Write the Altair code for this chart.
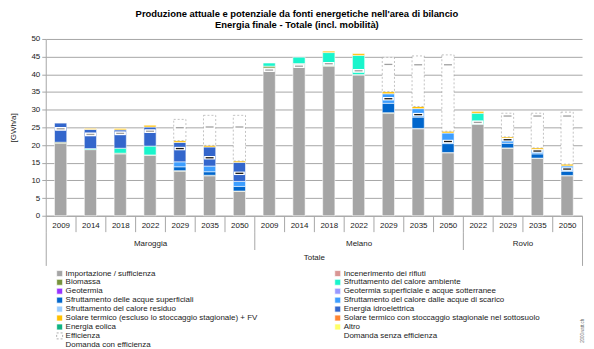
import altair as alt
import pandas as pd

# ---------------- data ----------------
comuni = ["Maroggia"] * 7 + ["Melano"] * 7 + ["Rovio"] * 4
anni = [2009, 2014, 2018, 2022, 2029, 2035, 2050,
        2009, 2014, 2018, 2022, 2029, 2035, 2050,
        2022, 2029, 2035, 2050]
keys = [f"{c} {a}" for c, a in zip(comuni, anni)]

S_IMP = "Importazione / sufficienza"
S_INC = "Incenerimento dei rifiuti"
S_BIO = "Biomassa"
S_AMB = "Sfruttamento del calore ambiente"
S_GEO = "Geotermia"
S_GES = "Geotermia superficiale e acque sotterranee"
S_ASU = "Sfruttamento delle acque superficiali"
S_ASC = "Sfruttamento del calore dalle acque di scarico"
S_RES = "Sfruttamento del calore residuo"
S_IDR = "Energia idroelettrica"
S_SOL = "Solare termico (escluso lo stoccaggio stagionale) + FV"
S_SST = "Solare termico con stoccaggio stagionale nel sottosuolo"
S_EOL = "Energia eolica"
S_ALT = "Altro"
S_EFF = "Efficienza"
S_DSE = "Domanda senza efficienza"
S_DCE = "Domanda con efficienza"

importazione = [20.5, 18.7, 17.5, 17.1, 12.6, 11.3, 6.9,
                41.8, 42.9, 42.3, 39.8, 29.0, 24.6, 17.8,
                25.9, 19.1, 16.2, 11.3]
biomassa = [0.3, 0.0, 0.2, 0.1, 0.15, 0.15, 0.1,
            0.5, 0.15, 0.25, 0.15, 0.15, 0.1, 0.1,
            0.0, 0.1, 0.1, 0.1]
calore_ambiente = [0.0, 0.3, 1.4, 2.5, 0.0, 0.0, 0.0,
                   0.9, 1.8, 3.6, 5.4, 0.0, 0.0, 0.0,
                   3.1, 0.0, 0.0, 0.0]
acque_superficiali = [0.0, 0.0, 0.0, 0.0, 1.1, 1.0, 1.3,
                      0.0, 0.0, 0.0, 0.0, 2.65, 3.2, 2.5,
                      0.0, 1.3, 1.2, 1.2]
acque_scarico = [0.0, 0.0, 0.0, 0.0, 1.4, 1.6, 1.4,
                 0.0, 0.0, 0.0, 0.0, 2.7, 2.4, 3.0,
                 0.0, 1.4, 1.2, 1.5]
idroelettrica = [5.4, 5.4, 5.2, 5.4, 5.5, 5.4, 5.4,
                 0.0, 0.0, 0.0, 0.0, 0.0, 0.0, 0.0,
                 0.0, 0.0, 0.0, 0.0]
solare = [0.0, 0.3, 0.4, 0.5, 0.5, 0.45, 0.4,
          0.0, 0.0, 0.4, 0.5, 0.6, 0.6, 0.5,
          0.5, 0.4, 0.5, 0.5]
efficienza = [0.0, 0.0, 0.0, 0.0, 6.0, 8.5, 12.9,
              0.0, 0.0, 0.0, 0.0, 9.7, 14.3, 21.6,
              0.0, 6.7, 9.8, 14.7]
domanda_con = [24.6, 23.0, 23.3, 23.9, 19.0, 16.4, 12.0,
               41.2, 42.3, 43.0, 41.0, 33.1, 28.6, 21.0,
               26.4, 21.5, 18.3, 13.2]
domanda_senza = [24.6, 23.0, 23.3, 23.9, 24.9, 25.1, 25.1,
                 41.2, 42.3, 43.0, 41.0, 42.8, 42.7, 42.7,
                 26.4, 28.2, 28.2, 28.2]

# legend order (column-major: left column, then right column)
legend_order = [S_IMP, S_BIO, S_GEO, S_ASU, S_RES, S_SOL, S_EOL, S_EFF, S_DCE,
                S_INC, S_AMB, S_GES, S_ASC, S_IDR, S_SST, S_ALT, S_DSE]
fill_colors = ["#A5A5A5", "#77933C", "#9933FF", "#0066CC", "#99CCFF", "#FFC000",
               "#10B383", "#FFFFFF", "#FFFFFF",
               "#D99694", "#19F5CC", "#9999FF", "#3D9EFF", "#3366CC", "#FF8533",
               "#FFFF66", "#FFFFFF"]
stroke_colors = ["#FFFFFF"] * 7 + ["#9A9A9A"] + ["#FFFFFF"] * 9
dashes = [[1, 0]] * 7 + [[2, 2]] + [[1, 0]] * 9

stack_order = [S_IMP, S_INC, S_BIO, S_AMB, S_GEO, S_GES, S_ASU, S_ASC, S_RES,
               S_IDR, S_EOL, S_ALT, S_SOL, S_SST, S_EFF]

series = {
    S_IMP: importazione, S_BIO: biomassa, S_AMB: calore_ambiente,
    S_ASU: acque_superficiali, S_ASC: acque_scarico, S_IDR: idroelettrica,
    S_SOL: solare, S_EFF: efficienza,
}

rows = []
for name, vals in series.items():
    for k, v in zip(keys, vals):
        if v > 0:
            rows.append({"key": k, "serie": name, "valore": v,
                         "ord": stack_order.index(name)})
df = pd.DataFrame(rows)

dm = pd.DataFrame({"key": keys, "con": domanda_con, "senza": domanda_senza})

FONT = "Liberation Sans"
GRID = "#A6A6A6"
TXT = "#1a1a1a"

leg = alt.Legend(title=None, orient="none", legendX=10, legendY=232, columns=2,
                 columnPadding=75, rowPadding=-1, symbolType="square", symbolSize=36,
                 labelFontSize=8, labelFont=FONT, labelColor=TXT,
                 labelLimit=320, labelOffset=2, symbolStrokeWidth=0.8)

yscale = alt.Scale(domain=[0, 50], nice=False)
xscale = alt.Scale(domain=keys, paddingInner=0, paddingOuter=0)

xaxis = alt.Axis(title=None, labelExpr="split(datum.value, ' ')[1]",
                 labelAngle=0, tickBand="extent", tickSize=16,
                 labelPadding=-10, domainColor=GRID, tickColor=GRID,
                 labelFontSize=8, labelFont=FONT, labelColor=TXT, grid=False)
yaxis = alt.Axis(values=list(range(0, 51, 5)), title="[GWh/a]",
                 titleFontSize=8, titleFontWeight="normal", titleFont=FONT,
                 titleColor=TXT, labelFontSize=8, labelFont=FONT,
                 labelColor=TXT, gridColor=GRID, domainColor=GRID,
                 tickColor=GRID, tickSize=4, labelPadding=2, titlePadding=14)

bars = alt.Chart(df).mark_bar(width=alt.RelativeBandSize(0.41), strokeWidth=0.6).encode(
    x=alt.X("key:N", sort=keys, scale=xscale, axis=xaxis),
    y=alt.Y("valore:Q", stack="zero", scale=yscale, axis=yaxis),
    fill=alt.Fill("serie:N", scale=alt.Scale(domain=legend_order, range=fill_colors), legend=leg),
    stroke=alt.Stroke("serie:N", scale=alt.Scale(domain=legend_order, range=stroke_colors), legend=leg),
    strokeDash=alt.StrokeDash("serie:N", scale=alt.Scale(domain=legend_order, range=dashes), legend=leg),
    order=alt.Order("ord:Q", sort="ascending"),
)

def marker(field, color, size, thick):
    return alt.Chart(dm).mark_tick(color=color, size=size, thickness=thick, opacity=1).encode(
        x=alt.X("key:N", sort=keys, scale=xscale, axis=xaxis),
        y=alt.Y(f"{field}:Q", scale=yscale, axis=yaxis),
    )

inner = alt.layer(
    bars,
    marker("con", "#FFFFFF", 11, 3.5),
    marker("con", "#1a1a1a", 8, 1.3),
    marker("senza", "#FFFFFF", 11, 3.5),
    marker("senza", "#A0A0A0", 8, 1.3),
)

pos_df = pd.DataFrame({"p": [0, 18]})
qscale = alt.Scale(domain=[0, 18], nice=False, zero=False)

ax_gruppi = alt.Chart(pos_df).mark_point(opacity=0).encode(
    x=alt.X("p:Q", scale=qscale,
            axis=alt.Axis(orient="bottom", offset=16, title=None, grid=False, domain=False,
                          values=[0, 3.5, 7, 10.5, 14, 16, 18],
                          labelExpr="datum.value == 3.5 ? 'Maroggia' : datum.value == 10.5 ? 'Melano' : datum.value == 16 ? 'Rovio' : ''",
                          tickSize=18, labelPadding=-10, labelFontSize=8, labelFont=FONT,
                          labelColor=TXT, labelFlush=False, labelOverlap=False,
                          tickColor={"condition": {"test": "datum.value == 3.5 || datum.value == 10.5 || datum.value == 16",
                                                   "value": "transparent"},
                                     "value": GRID}))
)

ax_totale = alt.Chart(pos_df).mark_point(opacity=0).encode(
    x=alt.X("p:Q", scale=qscale,
            axis=alt.Axis(orient="bottom", offset=34, title=None, grid=False, domain=False,
                          values=[0, 9, 18],
                          labelExpr="datum.value == 9 ? 'Totale' : ''",
                          tickSize=16, labelPadding=-12, labelFontSize=8, labelFont=FONT,
                          labelColor=TXT, labelFlush=False, labelOverlap=False,
                          tickColor={"condition": {"test": "datum.value == 9",
                                                   "value": "transparent"},
                                     "value": GRID}))
)

wm = alt.Chart(pd.DataFrame({"t": ["2000watt.ch"]})).mark_text(
    angle=270, fontSize=4.5, font=FONT, color="#666666", align="left", baseline="middle"
).encode(text="t:N", x=alt.value(541), y=alt.value(306))

chart = alt.layer(inner, ax_gruppi, ax_totale, wm).resolve_scale(x="independent").properties(
    width=540, height=178,
    autosize=alt.AutoSizeParams(type="none"),
    padding={"left": 38, "top": 30, "right": 4, "bottom": 133},
    title=alt.TitleParams(
        text=["Produzione attuale e potenziale da fonti energetiche nell'area di bilancio",
              "Energia finale - Totale (incl. mobilità)"],
        fontSize=9.5, fontWeight="bold", font=FONT, color="#000000",
        anchor="middle", frame="bounds", offset=6, lineHeight=11),
).configure_view(stroke="transparent")

chart.save("out.html", embed_options={"renderer": "svg", "actions": False})
